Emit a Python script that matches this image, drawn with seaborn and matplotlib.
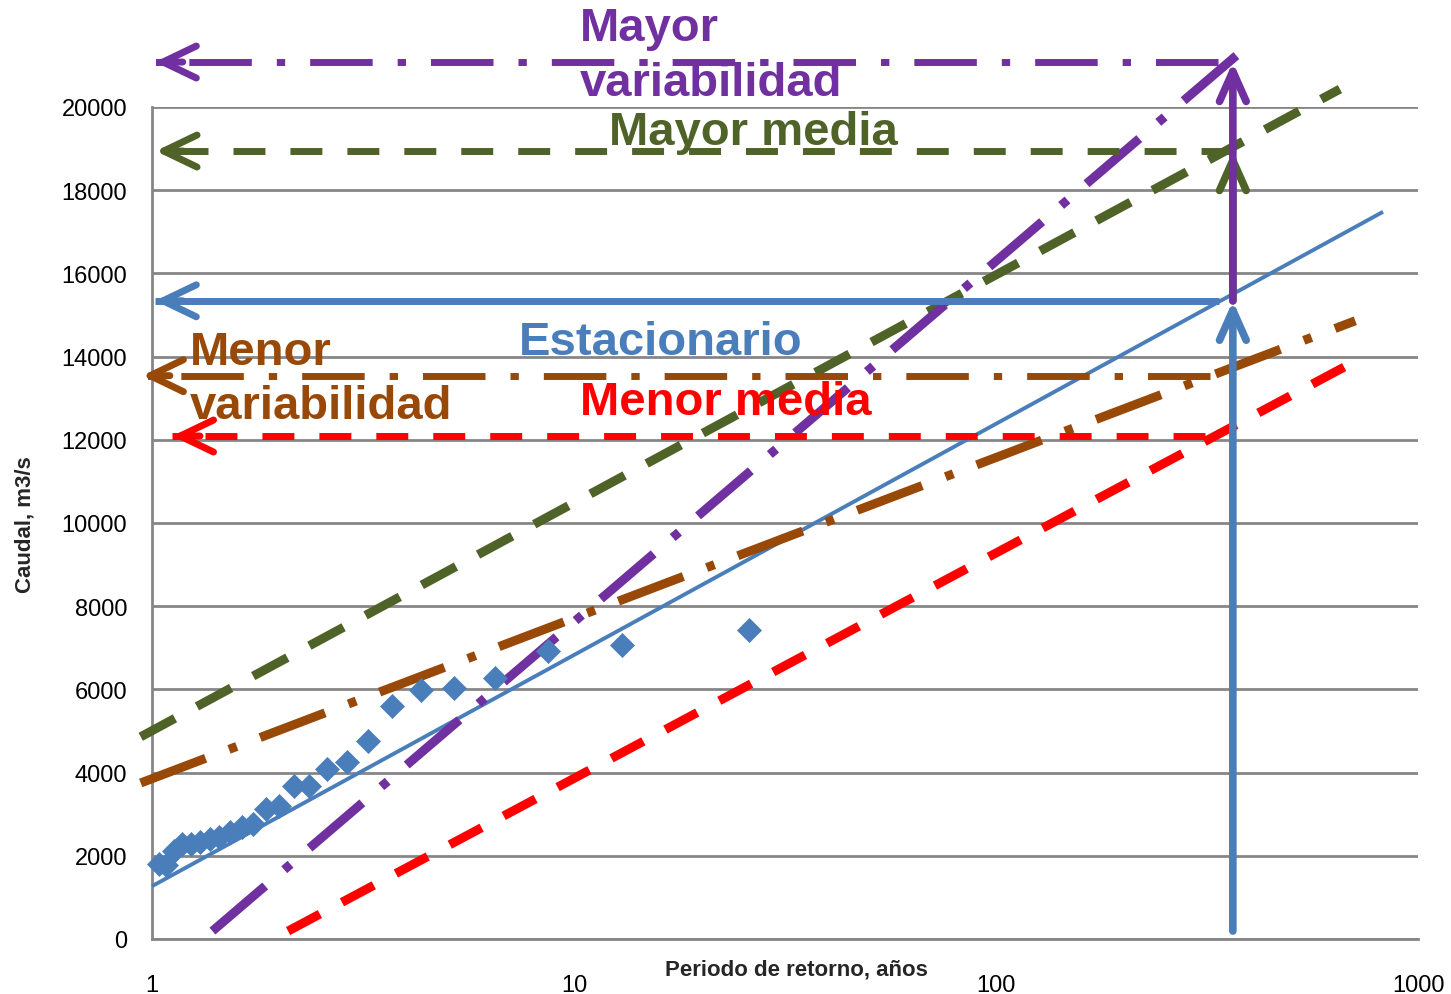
import matplotlib
matplotlib.use("Agg")
import matplotlib.pyplot as plt
import seaborn as sns
import pandas as pd
import numpy as np

# Observed annual peak flows (m3/s) and their return periods (years)
obs_T = [26.0, 13.0, 8.67, 6.5, 5.2, 4.33, 3.71, 3.25, 2.89, 2.6, 2.36, 2.17,
         2.0, 1.86, 1.73, 1.63, 1.53, 1.44, 1.37, 1.3, 1.24, 1.18, 1.13, 1.08, 1.04]
obs_Q = [7430, 7070, 6920, 6270, 6030, 5990, 5600, 4760, 4250, 4090, 3680, 3680,
         3200, 3120, 2760, 2690, 2570, 2450, 2400, 2330, 2280, 2280, 2120, 1780, 1800]

# Fitted frequency lines (endpoints in return period / flow)
scenarios = ["Estacionario", "Mayor media", "Menor media",
             "Mayor variabilidad", "Menor variabilidad"]
line_T = {"Estacionario": [1.0, 826], "Mayor media": [0.94, 653],
          "Menor media": [2.10, 710], "Mayor variabilidad": [1.39, 395],
          "Menor variabilidad": [0.94, 710]}
line_Q = {"Estacionario": [1270, 17480], "Mayor media": [4860, 20430],
          "Menor media": [190, 13890], "Mayor variabilidad": [190, 21470],
          "Menor variabilidad": [3750, 14860]}

# Design return period and the flow each scenario gives there
design_T = 364
design_Q = {"Estacionario": 15340, "Mayor media": 18940, "Menor media": 12090,
            "Mayor variabilidad": 21080, "Menor variabilidad": 13540}
arrow_left_T = {"Estacionario": 1.016, "Mayor media": 1.02, "Menor media": 1.116,
                "Mayor variabilidad": 1.016, "Menor variabilidad": 0.947}
arrow_right_T = {"Estacionario": 338, "Mayor media": 364, "Menor media": 313,
                 "Mayor variabilidad": 336, "Menor variabilidad": 321}
base_Q = 190

x_ticks = [1, 10, 100, 1000]
x_tick_labels = ["1", "10", "100", "1000"]
y_ticks = list(range(0, 20001, 2000))

colors = {"Estacionario": "#4A7EBB", "Mayor media": "#4F6228",
          "Menor media": "#FF0000", "Mayor variabilidad": "#7030A0",
          "Menor variabilidad": "#984807"}
line_styles = {"Estacionario": "-",
               "Mayor media": (0, (28, 18)),
               "Menor media": (0, (26, 18)),
               "Mayor variabilidad": (0, (50, 18, 6, 18)),
               "Menor variabilidad": (0, (50, 18, 6, 18))}
line_widths = {"Estacionario": 2.8, "Mayor media": 6.5, "Menor media": 6.5,
               "Mayor variabilidad": 6.5, "Menor variabilidad": 6.5}
h_styles = {"Estacionario": "-",
            "Mayor media": (0, (23, 18)),
            "Menor media": (0, (23, 18)),
            "Mayor variabilidad": (0, (45, 18, 6, 18)),
            "Menor variabilidad": (0, (45, 18, 6, 18))}

# Label text and placement (left edge T, centre Q)
labels = {"Mayor variabilidad": ("Mayor\nvariabilidad", 10.33, 21230),
          "Mayor media": ("Mayor media", 12.07, 19400),
          "Estacionario": ("Estacionario", 7.4, 14350),
          "Menor variabilidad": ("Menor\nvariabilidad", 1.23, 13460),
          "Menor media": ("Menor media", 10.33, 12910)}

sns.set_theme(style="white")
plt.rcParams["font.family"] = ["Liberation Sans", "DejaVu Sans"]
plt.rcParams["lines.scale_dashes"] = False
plt.rcParams["lines.dash_capstyle"] = "butt"
plt.rcParams["lines.solid_capstyle"] = "butt"

fig = plt.figure(figsize=(14.51, 9.95), dpi=100)
ax = fig.add_axes([0.1048, 0.0553, 0.9773 - 0.1048, 0.8915 - 0.0553])

ax.set_xscale("log")
ax.set_xlim(1, 1000)
ax.set_ylim(0, 20000)

grid_color = "#868686"
for yv in y_ticks:
    ax.axhline(yv, color=grid_color, lw=2, zorder=0)

# Frequency lines
for name in scenarios:
    df = pd.DataFrame({"T": line_T[name], "Q": line_Q[name]})
    sns.lineplot(data=df, x="T", y="Q", ax=ax, color=colors[name],
                 linewidth=line_widths[name], linestyle=line_styles[name],
                 clip_on=False, zorder=3, sort=False, estimator=None)

# Observed peaks
obs = pd.DataFrame({"T": obs_T, "Q": obs_Q})
sns.scatterplot(data=obs, x="T", y="Q", ax=ax, marker="D", s=150,
                color="#4A7EBB", edgecolor="#4A7EBB", linewidth=0.5,
                zorder=4, clip_on=False)

h_head = "->,head_length=1.5,head_width=0.72"
v_head = "->,head_length=1.35,head_width=0.6"


def chevron(x_tip, y_tip, dx, dy, color, lw):
    ax.annotate("", xy=(x_tip, y_tip), xytext=(dx, dy),
                textcoords="offset points", annotation_clip=False,
                arrowprops=dict(arrowstyle=h_head, mutation_scale=16, lw=lw,
                                color=color, shrinkA=0, shrinkB=0,
                                capstyle="round", joinstyle="round",
                                clip_on=False), zorder=5)


def vertical_arrow(q_from, q_to, color, z):
    ax.annotate("", xy=(design_T, q_to), xytext=(design_T, q_from),
                annotation_clip=False,
                arrowprops=dict(arrowstyle=v_head, mutation_scale=16, lw=5.5,
                                color=color, shrinkA=0, shrinkB=0,
                                capstyle="round", joinstyle="round",
                                clip_on=False), zorder=z)


# Horizontal arrows pointing to the flow axis
for name in scenarios:
    c = colors[name]
    hdf = pd.DataFrame({"T": [arrow_right_T[name], arrow_left_T[name]],
                        "Q": [design_Q[name], design_Q[name]]})
    sns.lineplot(data=hdf, x="T", y="Q", ax=ax, color=c, linewidth=5,
                 linestyle=h_styles[name], clip_on=False, zorder=5,
                 sort=False, estimator=None)
    chevron(arrow_left_T[name], design_Q[name], 20, 0, c, 5)

# Vertical arrows at the design return period
vertical_arrow(base_Q, design_Q["Estacionario"], colors["Estacionario"], 5)
vertical_arrow(design_Q["Estacionario"], design_Q["Mayor media"],
               colors["Mayor media"], 5)
vertical_arrow(design_Q["Estacionario"], design_Q["Mayor variabilidad"],
               colors["Mayor variabilidad"], 6)

# Scenario labels
for name, (txt, tx, ty) in labels.items():
    ax.text(tx, ty, txt, color=colors[name], fontsize=34, fontweight="bold",
            ha="left", va="center", linespacing=1.32, zorder=7, clip_on=False)

# Axes styling
for side in ["top", "right"]:
    ax.spines[side].set_visible(False)
for side in ["left", "bottom"]:
    ax.spines[side].set_color(grid_color)
    ax.spines[side].set_linewidth(2)
    ax.spines[side].set_zorder(1)

ax.set_xticks(x_ticks)
ax.set_xticklabels(x_tick_labels)
ax.xaxis.set_minor_locator(matplotlib.ticker.NullLocator())
ax.set_yticks(y_ticks)
ax.set_yticklabels([str(v) for v in y_ticks])
ax.tick_params(axis="both", which="major", direction="out", length=7, width=2,
               color=grid_color, labelsize=17, labelcolor="black")
ax.tick_params(axis="y", pad=11)
ax.tick_params(axis="x", pad=18)
ax.grid(False)

ax.set_xlabel("Periodo de retorno, años", fontsize=16, fontweight="bold")
ax.set_ylabel("Caudal, m3/s", fontsize=16, fontweight="bold")
ax.xaxis.set_label_coords(0.509, -0.036)
ax.xaxis.label.set_va("center")
ax.yaxis.set_label_coords(-0.100, 0.499)
ax.yaxis.label.set_va("center")

fig.savefig("out.png", dpi=100, facecolor="white")
